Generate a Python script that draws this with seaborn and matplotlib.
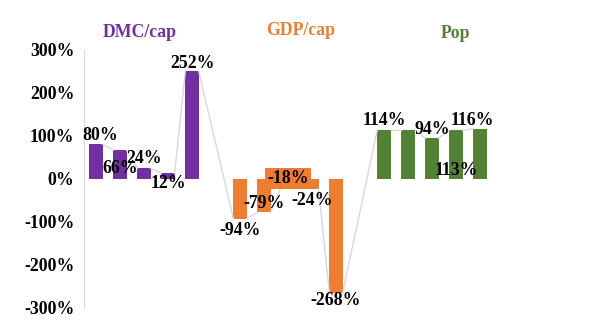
#!/usr/bin/env python3
"""Change rates of DMC/cap, GDP/cap and Pop as a grouped bar chart with connector lines."""

import pandas as pd
import seaborn as sns
import matplotlib.pyplot as plt

# data
groups = ["DMC/cap", "GDP/cap", "Pop"]
dmc_vals = [80, 66, 24, 12, 252]
gdp_vals = [-94, -79, -18, -24, -268]
pop_vals = [114, 114, 94, 113, 116]
dmc_labels = ["80%", "66%", "24%", "12%", "252%"]
gdp_labels = ["-94%", "-79%", "-18%", "-24%", "-268%"]
pop_labels = ["114%", None, "94%", "113%", "116%"]
yticks = [-300, -200, -100, 0, 100, 200, 300]

COLORS = {"DMC/cap": "#7030A0", "GDP/cap": "#ED7D31", "Pop": "#548235"}
N_SLOTS = 20
GROUP_START = {"DMC/cap": 0, "GDP/cap": 6, "Pop": 12}
BAR_W = 0.55
FS = 12.8

# label offsets in pixels (dx, dy) from bar centre / bar end
LABEL_OFF = [
    (4, 9), (0, -18), (0, 10), (0, -10), (0, 7),
    (0, -12), (0, 9), (0, 8), (0, -12), (0, -7),
    (0, 9), (0, 0), (0, 9), (0, -40), (-8, 8),
]
TITLE_POS = {"DMC/cap": (1.83, 342), "GDP/cap": (8.54, 345), "Pop": (14.96, 338)}

rows = []
for g, vals, labs in zip(groups, [dmc_vals, gdp_vals, pop_vals],
                         [dmc_labels, gdp_labels, pop_labels]):
    for i, (v, lab) in enumerate(zip(vals, labs)):
        rows.append({"slot": str(GROUP_START[g] + i), "group": g, "value": v, "label": lab})
df = pd.DataFrame(rows)
order = [str(i) for i in range(N_SLOTS)]

plt.rcParams["font.family"] = ["Liberation Serif", "DejaVu Serif"]
plt.rcParams["font.weight"] = "bold"

fig = plt.figure(figsize=(6.13, 3.33), dpi=100)
ax = fig.add_axes([84 / 613, 26 / 333, 480 / 613, 257 / 333])

sns.barplot(data=df, x="slot", y="value", hue="group", order=order,
            palette=COLORS, dodge=False, width=BAR_W, legend=False,
            saturation=1, ax=ax)

# connector lines from right edge of each bar to left edge of the next
xs = df["slot"].astype(int).to_numpy()
vs = df["value"].to_numpy()
for i in range(len(df) - 1):
    ax.plot([xs[i] + BAR_W / 2, xs[i + 1] - BAR_W / 2], [vs[i], vs[i + 1]],
            color="#d9d9d9", lw=1, zorder=1)

for (x, v, lab, g), (dx, dy) in zip(df[["slot", "value", "label", "group"]].itertuples(index=False),
                                    LABEL_OFF):
    if lab is None:
        continue
    kw = {}
    if lab == "-18%":
        kw["bbox"] = dict(boxstyle="square,pad=0.12", fc=COLORS["GDP/cap"], ec="none")
    ax.annotate(lab, (int(x), v), xytext=(dx * 0.72, dy * 0.72), textcoords="offset points",
                ha="center", va="center", fontsize=FS, fontweight="bold",
                color="black", zorder=5, **kw)

for g in groups:
    tx, ty = TITLE_POS[g]
    ax.text(tx, ty, g, ha="center", va="center", fontsize=FS, fontweight="bold",
            color=COLORS[g], clip_on=False)

ax.set_xlim(-0.5, N_SLOTS - 0.5)
ax.set_ylim(-300, 300)
ax.set_yticks(yticks)
ax.set_yticklabels([f"{t}%" for t in yticks], fontsize=FS, fontweight="bold")
ax.set_xticks([])
ax.set_xlabel("")
ax.set_ylabel("")
ax.tick_params(axis="y", length=0, pad=7)
for s in ["top", "right", "bottom"]:
    ax.spines[s].set_visible(False)
ax.spines["left"].set_color("#d9d9d9")
ax.patch.set_alpha(0)

fig.savefig("out.png", dpi=100)
